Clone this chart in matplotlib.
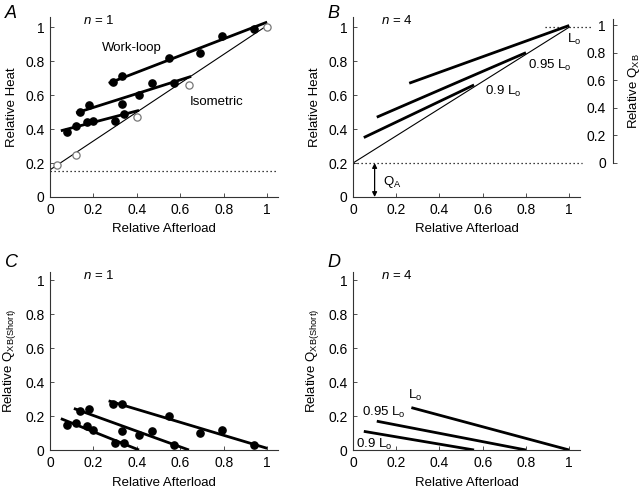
import matplotlib
matplotlib.use("Agg")
import matplotlib.pyplot as plt

plt.rcParams['font.family'] = ['Liberation Sans', 'DejaVu Sans']
plt.rcParams['font.size'] = 10
plt.rcParams['mathtext.fontset'] = 'custom'
plt.rcParams['mathtext.rm'] = 'Liberation Sans'
plt.rcParams['mathtext.it'] = 'Liberation Sans:italic'

# ---- Panel A data (relative afterload vs relative heat) ----
iso_x = [0.03, 0.12, 0.40, 0.64, 1.0]
iso_y = [0.19, 0.25, 0.47, 0.66, 1.0]
iso_line_x = [0.0, 1.0]
iso_line_y = [0.16, 1.01]
baseline_A = 0.155

wl1_x = [0.08, 0.12, 0.17, 0.20, 0.30, 0.34]
wl1_y = [0.38, 0.42, 0.44, 0.45, 0.45, 0.49]
wl1_fit_x = [0.05, 0.41]
wl1_fit_y = [0.39, 0.51]

wl2_x = [0.14, 0.18, 0.33, 0.41, 0.47, 0.57]
wl2_y = [0.50, 0.54, 0.55, 0.60, 0.67, 0.67]
wl2_fit_x = [0.12, 0.65]
wl2_fit_y = [0.495, 0.71]

wl3_x = [0.29, 0.33, 0.55, 0.69, 0.79, 0.94]
wl3_y = [0.68, 0.71, 0.82, 0.85, 0.95, 0.99]
wl3_fit_x = [0.27, 1.0]
wl3_fit_y = [0.67, 1.03]

# ---- Panel C data (QXB(Short)) ----
c1_y = [0.15, 0.16, 0.14, 0.12, 0.04, 0.04]
c1_fit_x = [0.05, 0.41]
c1_fit_y = [0.185, 0.0]
c2_y = [0.23, 0.24, 0.11, 0.09, 0.11, 0.03]
c2_fit_x = [0.11, 0.64]
c2_fit_y = [0.245, 0.0]
c3_y = [0.27, 0.27, 0.20, 0.10, 0.12, 0.03]
c3_fit_x = [0.27, 1.0]
c3_fit_y = [0.29, 0.01]

# ---- Panel B data (mean fits, n = 4) ----
b_iso_x = [0.0, 1.0]
b_iso_y = [0.2, 1.0]
b_lo_x = [0.26, 1.0]
b_lo_y = [0.67, 1.01]
b_95_x = [0.11, 0.80]
b_95_y = [0.47, 0.85]
b_90_x = [0.05, 0.56]
b_90_y = [0.35, 0.66]
qa_level = 0.2

# ---- Panel D data ----
d_lo_x = [0.27, 1.0]
d_lo_y = [0.25, 0.0]
d_95_x = [0.11, 0.80]
d_95_y = [0.17, 0.0]
d_90_x = [0.05, 0.56]
d_90_y = [0.11, 0.0]

ticks = [0, 0.2, 0.4, 0.6, 0.8, 1]
ticklabels = ['0', '0.2', '0.4', '0.6', '0.8', '1']

FS = 9.5

fig = plt.figure(figsize=(6.43, 4.90), dpi=100)
W, H = 643.0, 490.0

def mkax(l, r, t, b, ytop):
    ax = fig.add_axes([l / W, 1 - b / H, (r - l) / W, (b - t) / H])
    ax.set_xlim(0, 1.05)
    ax.set_ylim(0, ytop)
    for s in ['top', 'right']:
        ax.spines[s].set_visible(False)
    for s in ['left', 'bottom']:
        ax.spines[s].set_linewidth(0.8)
        ax.spines[s].set_color('#333333')
    ax.set_xticks(ticks)
    ax.set_xticklabels(ticklabels)
    ax.set_yticks(ticks)
    ax.set_yticklabels(ticklabels)
    ax.tick_params(direction='in', length=3, width=0.6, labelsize=FS + 0.5, pad=4, colors='#333333', labelcolor='black')
    ax.set_xlabel('Relative Afterload', fontsize=FS, labelpad=5)
    return ax

thick = 2.0
thin = 0.8
ms = 5.2

# Panel A
axA = mkax(50, 278, 17, 197, 1.06)
axA.set_ylabel('Relative Heat', fontsize=FS, labelpad=5)
axA.plot([0, 1.05], [baseline_A, baseline_A], ls=(0, (1, 2.2)), color='black', lw=0.9, clip_on=False)
axA.plot(iso_line_x, iso_line_y, color='black', lw=thin)
for fx, fy in [(wl1_fit_x, wl1_fit_y), (wl2_fit_x, wl2_fit_y), (wl3_fit_x, wl3_fit_y)]:
    axA.plot(fx, fy, color='black', lw=thick, solid_capstyle='butt')
for px, py in [(wl1_x, wl1_y), (wl2_x, wl2_y), (wl3_x, wl3_y)]:
    axA.plot(px, py, 'o', color='black', ms=ms, ls='none')
axA.plot(iso_x, iso_y, 'o', mfc='white', mec='#777777', mew=0.9, ms=ms, ls='none', clip_on=False)
axA.text(0.24, 0.86, 'Work-loop', fontsize=FS)
axA.text(0.645, 0.54, 'Isometric', fontsize=FS)
axA.text(0.15, 1.02, r'$\it{n}$ = 1', fontsize=FS)
fig.text(5 / W, 1 - 18 / H, 'A', fontsize=13, fontstyle='italic')

# Panel B
axB = mkax(353, 580, 17, 197, 1.06)
axB.set_ylabel('Relative Heat', fontsize=FS, labelpad=5)
axB.plot([0, 1.06], [qa_level, qa_level], ls=(0, (1, 2.2)), color='black', lw=0.9, clip_on=False)
axB.plot([0.89, 1.10], [1.0, 1.0], ls=(0, (1, 2.2)), color='black', lw=0.9, clip_on=False)
axB.plot(b_iso_x, b_iso_y, color='black', lw=thin)
for fx, fy in [(b_lo_x, b_lo_y), (b_95_x, b_95_y), (b_90_x, b_90_y)]:
    axB.plot(fx, fy, color='black', lw=thick, solid_capstyle='butt')
axB.annotate('', xy=(0.1, 0.0), xytext=(0.1, qa_level),
             arrowprops=dict(arrowstyle='<|-|>', color='black', lw=0.9, mutation_scale=7, shrinkA=0, shrinkB=0))
axB.text(0.14, 0.07, r'Q$_\mathregular{A}$', fontsize=FS)
axB.text(0.99, 0.91, r'L$_\mathregular{o}$', fontsize=FS)
axB.text(0.81, 0.755, r'0.95 L$_\mathregular{o}$', fontsize=FS)
axB.text(0.61, 0.6, r'0.9 L$_\mathregular{o}$', fontsize=FS)
axB.text(0.13, 1.02, r'$\it{n}$ = 4', fontsize=FS)
fig.text(327 / W, 1 - 18 / H, 'B', fontsize=13, fontstyle='italic')

# right axis for Relative QXB
top1 = 25
bot0 = 163
ytopR = 1.04
axR = fig.add_axes([613 / W, 1 - bot0 / H, 0.02, (bot0 - top1) / H * ytopR])
axR.set_ylim(0, ytopR)
axR.patch.set_visible(False)
for s in ['top', 'right', 'bottom']:
    axR.spines[s].set_visible(False)
axR.spines['left'].set_linewidth(0.8)
axR.spines['left'].set_color('#333333')
axR.set_xticks([])
axR.set_yticks(ticks)
axR.set_yticklabels(ticklabels)
axR.tick_params(direction='in', length=3, width=0.6, labelsize=FS + 0.5, pad=5, colors='#333333', labelcolor='black')
axR.yaxis.set_label_position('right')
axR.set_ylabel(r'Relative Q$_\mathregular{XB}$', fontsize=FS, labelpad=0)

# Panel C
axC = mkax(50, 278, 272, 450, 1.05)
axC.set_ylabel(r'Relative Q$_\mathregular{XB(Short)}$', fontsize=FS, labelpad=5)
for fx, fy in [(c1_fit_x, c1_fit_y), (c2_fit_x, c2_fit_y), (c3_fit_x, c3_fit_y)]:
    axC.plot(fx, fy, color='black', lw=thick, solid_capstyle='butt')
for px, py in [(wl1_x, c1_y), (wl2_x, c2_y), (wl3_x, c3_y)]:
    axC.plot(px, py, 'o', color='black', ms=ms, ls='none', clip_on=False)
axC.text(0.15, 1.01, r'$\it{n}$ = 1', fontsize=FS)
fig.text(5 / W, 1 - 267 / H, 'C', fontsize=13, fontstyle='italic')

# Panel D
axD = mkax(353, 580, 272, 450, 1.05)
axD.set_ylabel(r'Relative Q$_\mathregular{XB(Short)}$', fontsize=FS, labelpad=5)
for fx, fy in [(d_lo_x, d_lo_y), (d_95_x, d_95_y), (d_90_x, d_90_y)]:
    axD.plot(fx, fy, color='black', lw=thick, solid_capstyle='butt')
axD.text(0.255, 0.30, r'L$_\mathregular{o}$', fontsize=FS)
axD.text(0.04, 0.2, r'0.95 L$_\mathregular{o}$', fontsize=FS)
axD.text(0.015, 0.015, r'0.9 L$_\mathregular{o}$', fontsize=FS)
axD.text(0.13, 1.01, r'$\it{n}$ = 4', fontsize=FS)
fig.text(327 / W, 1 - 267 / H, 'D', fontsize=13, fontstyle='italic')

fig.savefig('out.png', dpi=100)
